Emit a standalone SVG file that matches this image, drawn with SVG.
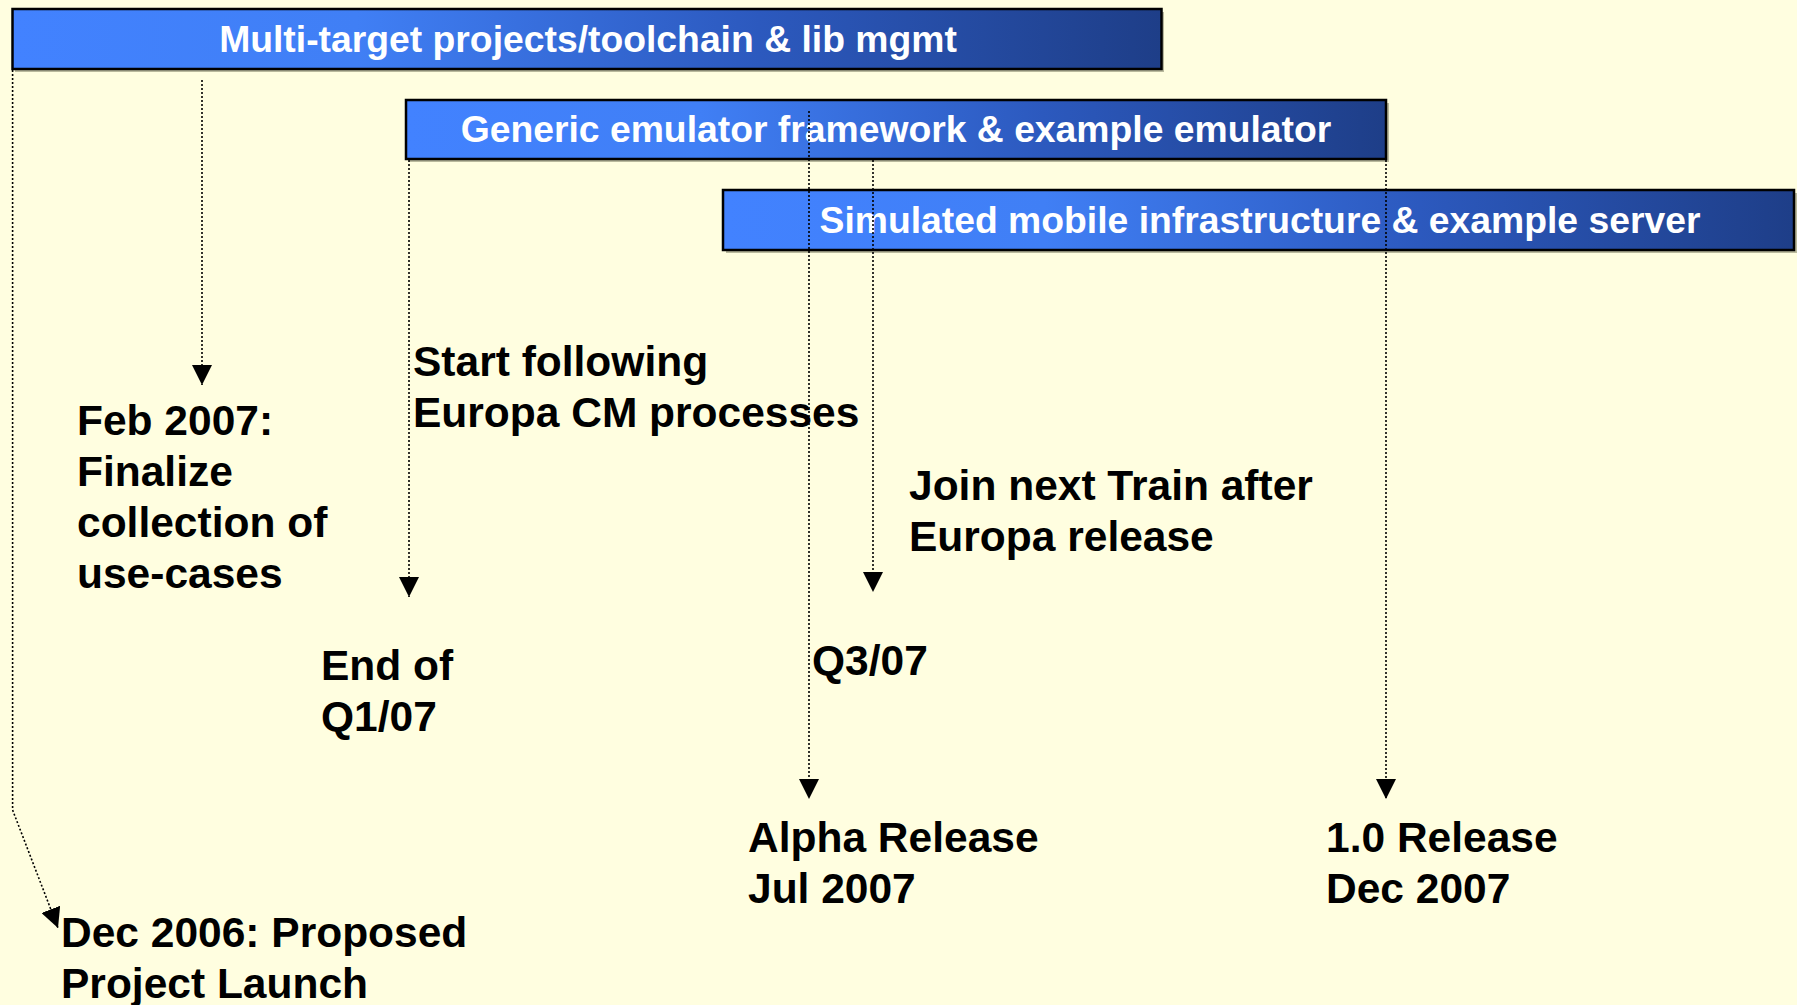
<svg xmlns="http://www.w3.org/2000/svg" width="1797" height="1005" viewBox="0 0 1797 1005">
<defs>
<linearGradient id="barGrad" x1="0" y1="0" x2="1" y2="0">
<stop offset="0" stop-color="#4282FF"/>
<stop offset="0.3" stop-color="#407FF5"/>
<stop offset="0.65" stop-color="#2C59BE"/>
<stop offset="1" stop-color="#1E3E88"/>
</linearGradient>
<marker id="arrow" markerUnits="userSpaceOnUse" markerWidth="20" markerHeight="20" refX="20" refY="10" orient="auto" viewBox="0 0 20 20">
<path d="M0,0 L20,10 L0,20 z" fill="#000"/>
</marker>
<style>
.shadow{fill:#8a8a70;opacity:0.6}
.bar{fill:url(#barGrad);stroke:#000;stroke-width:2.5}
.bartext{font-family:"Liberation Sans",Arial,sans-serif;font-weight:bold;font-size:37.3px;fill:#fff;text-anchor:middle}
.label{font-family:"Liberation Sans",Arial,sans-serif;font-weight:bold;font-size:42.5px;fill:#000}
.conn{fill:none;stroke:#000;stroke-width:1.6;stroke-dasharray:2 2;marker-end:url(#arrow)}
</style>
</defs>
<rect x="0" y="0" width="1797" height="1005" fill="#FFFEE0"/>

<g id="bar1">
<rect class="shadow" x="15" y="12" width="1149" height="60"/>
<rect class="bar" x="12.5" y="9" width="1149" height="60"/>
<text class="bartext" x="588" y="52">Multi-target projects/toolchain &amp; lib mgmt</text>
</g>
<g id="bar2">
<rect class="shadow" x="409" y="103" width="980" height="59"/>
<rect class="bar" x="406" y="100" width="980" height="59"/>
<text class="bartext" x="896" y="142">Generic emulator framework &amp; example emulator</text>
</g>
<g id="bar3">
<rect class="shadow" x="726" y="193" width="1071" height="60"/>
<rect class="bar" x="723" y="190" width="1071" height="60"/>
<text class="bartext" x="1260" y="233">Simulated mobile infrastructure &amp; example server</text>
</g>

<g id="connectors">
<path class="conn" d="M12.6,70 V810 L58,928"/>
<path class="conn" d="M202,80 V385"/>
<path class="conn" d="M409,160 V597"/>
<path class="conn" d="M809,111 V799"/>
<path class="conn" d="M873,160 V592"/>
<path class="conn" d="M1386,160 V799"/>
</g>

<g id="feb2007">
<text class="label" x="77" y="435">Feb 2007:</text>
<text class="label" x="77" y="486">Finalize</text>
<text class="label" x="77" y="537">collection of</text>
<text class="label" x="77" y="588">use-cases</text>
</g>
<g id="europaCM">
<text class="label" x="413" y="376">Start following</text>
<text class="label" x="413" y="427">Europa CM processes</text>
</g>
<g id="joinTrain">
<text class="label" x="909" y="500">Join next Train after</text>
<text class="label" x="909" y="551">Europa release</text>
</g>
<g id="endQ1">
<text class="label" x="321" y="680">End of</text>
<text class="label" x="321" y="731">Q1/07</text>
</g>
<g id="q3">
<text class="label" x="812" y="675">Q3/07</text>
</g>
<g id="alpha">
<text class="label" x="748" y="852">Alpha Release</text>
<text class="label" x="748" y="903">Jul 2007</text>
</g>
<g id="release10">
<text class="label" x="1326" y="852">1.0 Release</text>
<text class="label" x="1326" y="903">Dec 2007</text>
</g>
<g id="dec2006">
<text class="label" x="61" y="947">Dec 2006: Proposed</text>
<text class="label" x="61" y="998">Project Launch</text>
</g>
</svg>
